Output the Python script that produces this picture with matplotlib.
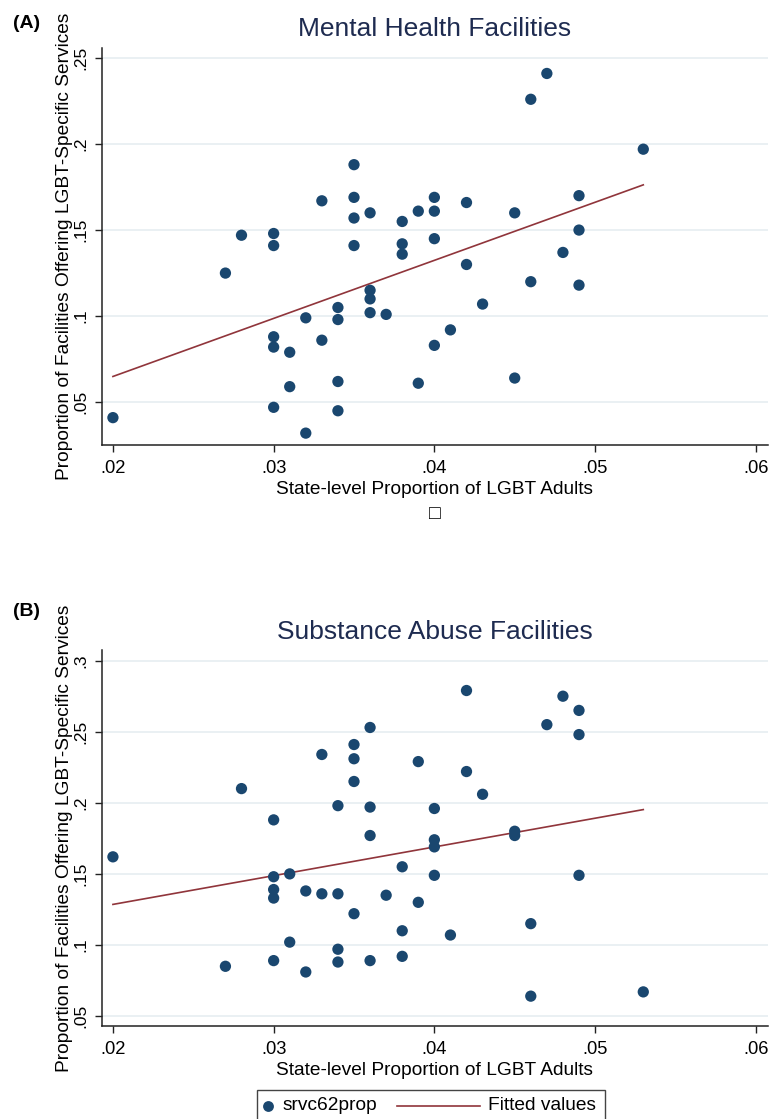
import numpy as np
import matplotlib.pyplot as plt
from matplotlib.lines import Line2D
from matplotlib.patches import Rectangle

plt.rcParams['font.family'] = ['Liberation Sans', 'DejaVu Sans']

# Panel A: mental health facilities
lgbt_a = [0.020, 0.027, 0.028,
          0.030, 0.030, 0.030, 0.030, 0.030,
          0.031, 0.031, 0.032, 0.032, 0.033, 0.033,
          0.034, 0.034, 0.034, 0.034,
          0.035, 0.035, 0.035, 0.035,
          0.036, 0.036, 0.036, 0.036, 0.037,
          0.038, 0.038, 0.038, 0.039, 0.039,
          0.040, 0.040, 0.040, 0.040, 0.041,
          0.042, 0.042, 0.043, 0.045, 0.045,
          0.046, 0.046, 0.047, 0.048,
          0.049, 0.049, 0.049, 0.053]
mh_prop = [0.041, 0.125, 0.147,
           0.148, 0.141, 0.088, 0.082, 0.047,
           0.079, 0.059, 0.099, 0.032, 0.167, 0.086,
           0.105, 0.098, 0.062, 0.045,
           0.188, 0.169, 0.157, 0.141,
           0.160, 0.115, 0.110, 0.102, 0.101,
           0.155, 0.142, 0.136, 0.161, 0.061,
           0.169, 0.161, 0.145, 0.083, 0.092,
           0.166, 0.130, 0.107, 0.160, 0.064,
           0.226, 0.120, 0.241, 0.137,
           0.170, 0.150, 0.118, 0.197]

# Panel B: substance abuse facilities
lgbt_b = [0.020, 0.027, 0.028,
          0.030, 0.030, 0.030, 0.030, 0.030,
          0.031, 0.031, 0.032, 0.032, 0.033, 0.033,
          0.034, 0.034, 0.034, 0.034,
          0.035, 0.035, 0.035, 0.035,
          0.036, 0.036, 0.036, 0.036, 0.037,
          0.038, 0.038, 0.038, 0.039, 0.039,
          0.040, 0.040, 0.040, 0.040, 0.041,
          0.042, 0.042, 0.043, 0.045, 0.045,
          0.046, 0.046, 0.047, 0.048,
          0.049, 0.049, 0.049, 0.053]
sa_prop = [0.162, 0.085, 0.210,
           0.188, 0.148, 0.139, 0.133, 0.089,
           0.150, 0.102, 0.138, 0.081, 0.234, 0.136,
           0.198, 0.136, 0.097, 0.088,
           0.241, 0.231, 0.215, 0.122,
           0.253, 0.197, 0.177, 0.089, 0.135,
           0.155, 0.110, 0.092, 0.229, 0.130,
           0.196, 0.174, 0.169, 0.149, 0.107,
           0.279, 0.222, 0.206, 0.180, 0.177,
           0.115, 0.064, 0.255, 0.275,
           0.265, 0.248, 0.149, 0.067]

x_ticks = [0.02, 0.03, 0.04, 0.05, 0.06]
x_labels = ['.02', '.03', '.04', '.05', '.06']
y_ticks_a = [0.05, 0.1, 0.15, 0.2, 0.25]
y_labels_a = ['.05', '.1', '.15', '.2', '.25']
y_ticks_b = [0.05, 0.1, 0.15, 0.2, 0.25, 0.3]
y_labels_b = ['.05', '.1', '.15', '.2', '.25', '.3']

navy = '#1a476f'
maroon = '#90353b'
grid_col = '#e6eef1'
title_col = '#1e2b50'

W, H = 783, 1119
fig = plt.figure(figsize=(W / 100, H / 100), dpi=100)


def px_box(left, top, right, bottom):
    return [left / W, 1 - bottom / H, (right - left) / W, (bottom - top) / H]


def draw_panel(ax, x, y, yticks, ylabels, ylim, h_px):
    x = np.array(x)
    y = np.array(y)
    ax.set_xlim(0.01932, 0.06076)
    ax.set_ylim(*ylim)
    for t in yticks:
        ax.axhline(t, color=grid_col, lw=1.2, zorder=0)
    ax.scatter(x, y, s=66, color=navy, edgecolors='none', zorder=3)
    # linear fit, as Stata's lfit
    slope, icpt = np.polyfit(x, y, 1)
    xs = np.array([x.min(), x.max()])
    ax.plot(xs, icpt + slope * xs, color=maroon, lw=1.2, zorder=2)
    for side in ['top', 'right']:
        ax.spines[side].set_visible(False)
    for side in ['left', 'bottom']:
        ax.spines[side].set_linewidth(1.1)
        ax.spines[side].set_color('#222222')
    ax.set_xticks(x_ticks)
    ax.set_xticklabels(x_labels, fontsize=13.2)
    ax.set_yticks(yticks)
    ax.set_yticklabels(ylabels, fontsize=12.5, rotation=90, va='center')
    ax.tick_params(axis='x', direction='out', length=5, width=1, pad=6, color='#222222')
    ax.tick_params(axis='y', direction='out', length=5, width=1, pad=5, color='#222222')
    ax.set_xlabel('State-level Proportion of LGBT Adults', fontsize=13.8)
    ax.xaxis.set_label_coords(0.5, -36 / h_px)
    ax.set_ylabel('Proportion of Facilities Offering LGBT-Specific Services', fontsize=13.8)
    ax.yaxis.set_label_coords(-0.043, 0.5)


ax1 = fig.add_axes(px_box(102, 48, 768, 445))
draw_panel(ax1, lgbt_a, mh_prop, y_ticks_a, y_labels_a, (0.0251, 0.2558), 397)

ax2 = fig.add_axes(px_box(102, 650, 768, 1026))
draw_panel(ax2, lgbt_b, sa_prop, y_ticks_b, y_labels_b, (0.043, 0.3075), 376)

fig.text(435 / W, 1 - 29 / H, 'Mental Health Facilities', fontsize=19,
         color=title_col, ha='center', va='center')
fig.text(435 / W, 1 - 632 / H, 'Substance Abuse Facilities', fontsize=19,
         color=title_col, ha='center', va='center')
fig.text(27 / W, 1 - 23 / H, '(A)', fontsize=14, fontweight='bold', ha='center', va='center')
fig.text(27 / W, 1 - 612 / H, '(B)', fontsize=14, fontweight='bold', ha='center', va='center')
fig.text(435 / W, 1 - 515 / H, '\u25a1', fontsize=14, ha='center', va='center')

# legend box at the bottom (cut by the image edge)
fig.add_artist(Rectangle((257 / W, -0.01), (605 - 257) / W, 0.01 + 29 / H,
                         transform=fig.transFigure, fill=False,
                         edgecolor='#444444', lw=1.0))
fig.add_artist(Line2D([268 / W], [1 - 1106 / H], marker='o', markersize=7.8,
                      color=navy, markeredgewidth=0, transform=fig.transFigure))
fig.text(283 / W, 1 - 1106 / H, 'srvc62prop', fontsize=13.8, ha='left', va='center')
fig.add_artist(Line2D([397 / W, 480 / W], [1 - 1106 / H, 1 - 1106 / H],
                      color=maroon, lw=1.2, transform=fig.transFigure))
fig.text(488 / W, 1 - 1106 / H, 'Fitted values', fontsize=13.8, ha='left', va='center')

fig.savefig('out.png', dpi=100)
